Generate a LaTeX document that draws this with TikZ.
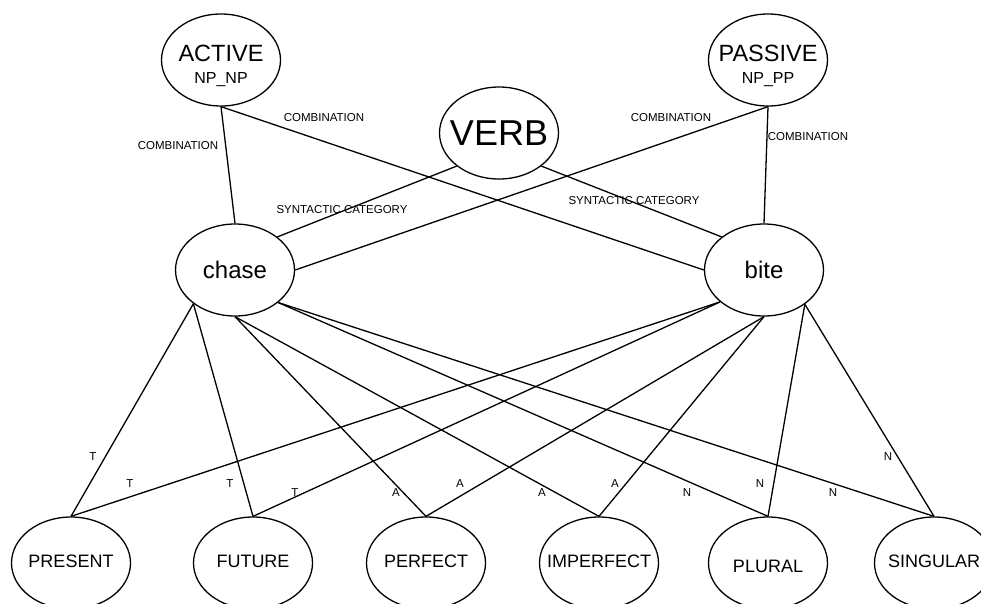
\documentclass[tikz,border=0pt]{standalone}
\usepackage{fontspec}
\setmainfont{Liberation Sans}
\usetikzlibrary{shapes.geometric}

\newcommand{\fs}[1]{\fontsize{#1}{#1}\selectfont}
% text set on a zero-size box, its baseline lowered by #1 from the node centre
\newcommand{\placed}[2]{\makebox[0pt]{\raisebox{#1}[0pt][0pt]{#2}}}

\tikzset{
  ent/.style={ellipse, draw, line width=1.3pt, inner sep=0pt,
              minimum width=119pt, minimum height=92pt, font=\fs{18}},
  link/.style={line width=1.3pt},
  elab/.style={inner sep=0pt, font=\fs{11.5}},
}

\begin{document}
\begin{tikzpicture}[x=1pt, y=-1pt]
  \useasboundingbox (0,0) rectangle (981,603);
  \clip (0,0) rectangle (981,603);

  % top concepts
  \node[ent] (active) at (221,60)
    {\placed{-11.5pt}{\begin{tabular}{@{}c@{}}\fs{23.5}ACTIVE\\[4.5pt]\fs{16}NP\_NP\end{tabular}}};
  \node[ent] (passive) at (768,60)
    {\placed{-11.5pt}{\begin{tabular}{@{}c@{}}\fs{23.5}PASSIVE\\[4.5pt]\fs{16}NP\_PP\end{tabular}}};
  \node[ent, font=\fs{36}] (verb) at (499,133) {\makebox[0pt]{VERB}};

  % verbs
  \node[ent, font=\fs{24}] (chase) at (235,270) {\makebox[0pt]{chase}};
  \node[ent, font=\fs{24}] (bite) at (764,270) {\makebox[0pt]{bite}};

  % features
  \node[ent] (present)   at (71,563)  {\placed{-4pt}{PRESENT}};
  \node[ent] (future)    at (253,563) {\placed{-4pt}{FUTURE}};
  \node[ent] (perfect)   at (426,563) {\placed{-4pt}{PERFECT}};
  \node[ent] (imperfect) at (599,563) {\placed{-4pt}{IMPERFECT}};
  \node[ent] (plural)    at (768,563) {\placed{-9.5pt}{PLURAL}};
  \node[ent] (singular)  at (934,563) {\placed{-4pt}{SINGULAR}};

  % combination and category links
  \draw[link] (active.south) -- (chase.north);
  \draw[link] (active.south) -- (bite.west);
  \draw[link] (passive.south) -- (chase.east);
  \draw[link] (passive.south) -- (bite.north);
  \draw[link] (verb.218) -- (chase.38);
  \draw[link] (verb.-38) -- (bite.142);

  % feature links from chase
  \draw[link] (chase.219) -- (present.north);
  \draw[link] (chase.219) -- (future.north);
  \draw[link] (chase.south) -- (perfect.north);
  \draw[link] (chase.south) -- (imperfect.north);
  \draw[link] (chase.-37) -- (plural.north);
  \draw[link] (chase.-37) -- (singular.north);

  % feature links from bite
  \draw[link] (bite.216) -- (present.north);
  \draw[link] (bite.216) -- (future.north);
  \draw[link] (bite.south) -- (perfect.north);
  \draw[link] (bite.south) -- (imperfect.north);
  \draw[link] (bite.-40) -- (plural.north);
  \draw[link] (bite.-40) -- (singular.north);

  % link labels
  \node[elab] (lc1) at (178,146) {COMBINATION};
  \node[elab] (lc2) at (324,118) {COMBINATION};
  \node[elab] (lc3) at (671,118) {COMBINATION};
  \node[elab] (lc4) at (808,137) {COMBINATION};
  \node[elab] (ls1) at (342,210) {SYNTACTIC CATEGORY};
  \node[elab] (ls2) at (634,201) {SYNTACTIC CATEGORY};

  \node[elab] (lt1) at (93,457)  {T};
  \node[elab] (lt2) at (130,484) {T};
  \node[elab] (lt3) at (230,484) {T};
  \node[elab] (lt4) at (295,493) {T};
  \node[elab] (la1) at (396,493) {A};
  \node[elab] (la2) at (460,484) {A};
  \node[elab] (la3) at (542,493) {A};
  \node[elab] (la4) at (615,484) {A};
  \node[elab] (ln1) at (687,493) {N};
  \node[elab] (ln2) at (760,484) {N};
  \node[elab] (ln3) at (833,493) {N};
  \node[elab] (ln4) at (888,457) {N};
\end{tikzpicture}
\end{document}
